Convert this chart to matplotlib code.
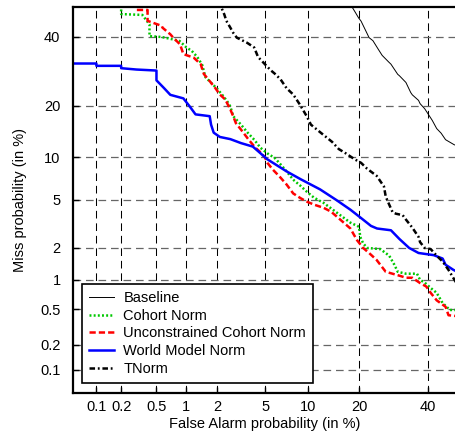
import math

import numpy as np
import matplotlib as mpl
mpl.use("Agg")
import matplotlib.pyplot as plt
from matplotlib.ticker import FixedLocator, FixedFormatter, NullLocator

# DET curve values, percentages (false alarm, miss)
baseline_fa = [17.5, 18.5, 19.2, 19.9, 20.5, 21.5, 22.5, 23.5, 25, 26, 27.9, 28.5, 30.5, 31,
               33, 34.5, 35, 37, 37.5, 39, 41.5, 43, 44.5, 46, 49, 50]
baseline_miss = [52, 49.7, 48, 46.3, 45.2, 42.4, 39.7, 38.7, 35.8, 34, 31.9, 31.3, 28.3, 27.9,
                 26, 23.3, 22.7, 21.3, 20.5, 19.3, 16.7, 15.0, 14.1, 12.9, 12.0, 11.9]

cohort_fa = [0.2, 0.2, 0.35, 0.42, 0.42, 0.57, 0.75, 0.87, 1.02, 1.15, 1.3, 1.45, 1.55, 2.0,
             2.25, 2.45, 2.6, 2.75, 3.2, 3.6, 4.1, 4.6, 5.2, 5.9, 6.5, 7.2, 8.0, 9.0, 9.9, 11.0,
             12.6, 14, 15.8, 18, 20, 20.3, 21, 22, 25.5, 28, 29.5, 30.5, 33, 36.5, 37.5, 39, 41,
             43, 45, 47.5, 50]
cohort_miss = [52, 47.6, 47.3, 44.1, 40.2, 39.9, 39.1, 38.6, 36.5, 35.4, 33.5, 31, 27.5, 24.2,
               22.4, 21, 19.8, 17.6, 15.8, 14.3, 12.9, 11.5, 10.6, 9.9, 9.0, 8.05, 7.05, 6.35,
               5.75, 5.2, 4.75, 4.3, 3.8, 3.3, 3.05, 2.5, 2.2, 2.0, 1.95, 1.7, 1.4, 1.2, 1.15,
               1.15, 1.0, 0.94, 0.83, 0.74, 0.58, 0.49, 0.49]

uncons_fa = [0.3, 0.3, 0.4, 0.4, 0.57, 0.58, 0.7, 0.75, 0.88, 0.95, 1.2, 1.4, 1.5, 1.9, 2.1,
             2.35, 2.6, 2.75, 2.9, 3.3, 3.7, 4.2, 4.7, 5.0, 5.2, 5.7, 6.5, 7.2, 8.0, 9.0, 9.9,
             11.0, 12.6, 14, 15.8, 18, 19.5, 21, 22.5, 24.5, 27, 31, 33, 35, 37.5, 39.5, 41,
             43, 46, 47, 50]
uncons_miss = [52, 49, 49, 45.3, 43.6, 43, 40.8, 39.7, 37.5, 34.4, 33.3, 31.3, 28.4, 24.6, 22.8,
               21.5, 19.1, 17.6, 16.1, 14.4, 12.9, 11.5, 10.6, 9.9, 9.2, 8.3, 7.3, 6.5, 5.6,
               5.15, 4.85, 4.6, 4.35, 4.05, 3.5, 2.95, 2.35, 2.0, 1.8, 1.55, 1.2, 1.1, 1.05,
               1.05, 0.93, 0.86, 0.74, 0.62, 0.53, 0.43, 0.42]

world_fa = [0.04, 0.1, 0.1, 0.2, 0.2, 0.3, 0.5, 0.5, 0.6, 0.7, 0.95, 1.1, 1.25, 1.7, 1.75, 1.85,
            2.1, 2.6, 3.2, 4.0, 5.2, 7.2, 9.0, 12, 15, 18, 20.5, 23, 24.6, 28.5, 31, 34, 37,
            42, 45, 46, 48.7, 50]
world_miss = [31.5, 31.5, 30.8, 30.8, 30.1, 29.7, 29.4, 26.6, 24.5, 22.7, 21.8, 19.8, 18.0,
              17.6, 15.8, 14.2, 13.4, 13.0, 12.3, 11.7, 9.7, 8.05, 7.1, 6.0, 5.0, 4.2, 3.6,
              3.1, 2.95, 2.85, 2.4, 2.0, 1.8, 1.72, 1.6, 1.4, 1.25, 1.2]

tnorm_fa = [2.05, 2.3, 2.4, 2.6, 2.75, 2.95, 3.6, 4.1, 4.4, 5.0, 5.5, 5.9, 6.5, 7.2, 8.0, 8.8,
            9.9, 10.5, 12, 14.2, 15.5, 17, 19, 20.5, 22, 24.5, 26.5, 27, 28, 29, 30, 32, 33,
            35, 37, 37.5, 39, 41, 43, 45, 47, 50]
tnorm_miss = [52, 47.5, 45.3, 43, 41.3, 39.7, 38.0, 36.5, 33.5, 31.2, 29.5, 28.5, 26.9, 24.4,
              22.8, 20.5, 17.5, 15.8, 14.3, 12.5, 11.3, 10.6, 9.7, 9.2, 8.4, 7.5, 6.3, 5.3,
              4.6, 4.0, 3.9, 3.8, 3.5, 3.0, 2.5, 2.25, 2.0, 1.95, 1.7, 1.5, 1.25, 0.9]

tick_vals = [0.1, 0.2, 0.5, 1, 2, 5, 10, 20, 40]
tick_labels = ["0.1", "0.2", "0.5", "1", "2", "5", "10", "20", "40"]


# normal deviate scale (Acklam's approximation for the inverse cdf)
_a = [-3.969683028665376e+01, 2.209460984245205e+02, -2.759285104469687e+02,
      1.383577518672690e+02, -3.066479806614716e+01, 2.506628277459239e+00]
_b = [-5.447609879822406e+01, 1.615858368580409e+02, -1.556989798598866e+02,
      6.680131188771972e+01, -1.328068155288572e+01]
_c = [-7.784894002430293e-03, -3.223964580411365e-01, -2.400758277161838e+00,
      -2.549671039971571e+00, 4.374664141464968e+00, 2.938163982698783e+00]
_d = [7.784695709041462e-03, 3.224671290700398e-01, 2.445134137142996e+00,
      3.754408661907416e+00]


def _ppf(p):
    p = np.clip(np.asarray(p, dtype=float), 1e-12, 1 - 1e-12)
    out = np.empty_like(p)
    lo = p < 0.02425
    hi = p > 1 - 0.02425
    mid = ~(lo | hi)
    q = np.sqrt(-2 * np.log(p[lo]))
    out[lo] = (((((_c[0]*q+_c[1])*q+_c[2])*q+_c[3])*q+_c[4])*q+_c[5]) / \
              ((((_d[0]*q+_d[1])*q+_d[2])*q+_d[3])*q+1)
    q = np.sqrt(-2 * np.log(1 - p[hi]))
    out[hi] = -(((((_c[0]*q+_c[1])*q+_c[2])*q+_c[3])*q+_c[4])*q+_c[5]) / \
               ((((_d[0]*q+_d[1])*q+_d[2])*q+_d[3])*q+1)
    q = p[mid] - 0.5
    r = q * q
    out[mid] = (((((_a[0]*r+_a[1])*r+_a[2])*r+_a[3])*r+_a[4])*r+_a[5])*q / \
               (((((_b[0]*r+_b[1])*r+_b[2])*r+_b[3])*r+_b[4])*r+1)
    return out


_erfc = np.vectorize(math.erfc)


def pct_to_dev(x):
    return _ppf(np.asarray(x, dtype=float) / 100.0)


def dev_to_pct(z):
    return 100.0 * 0.5 * _erfc(-np.asarray(z, dtype=float) / math.sqrt(2))


def main():
    mpl.rcParams.update({
        "font.family": ["Liberation Sans", "DejaVu Sans"],
        "font.size": 10.5,
        "lines.scale_dashes": False,
    })

    fig = plt.figure(figsize=(4.55, 4.32), dpi=100)
    W, H = 455, 432
    ax = fig.add_axes([73 / W, 39 / H, (457.3 - 73) / W, 386 / H])

    for axis in ("x", "y"):
        getattr(ax, f"set_{axis}scale")("function", functions=(pct_to_dev, dev_to_pct))
    ax.set_xlim(0.05, 50)
    ax.set_ylim(0.05, 50)

    ax.plot(baseline_fa, baseline_miss, color="black", lw=0.7, label="Baseline")
    ax.plot(cohort_fa, cohort_miss, color="#00c800", lw=1.8, linestyle=(0, (1.4, 1.6)),
            label="Cohort Norm")
    ax.plot(uncons_fa, uncons_miss, color="#ff0000", lw=1.8, linestyle=(0, (4.5, 2.2)),
            label="Unconstrained Cohort Norm")
    ax.plot(world_fa, world_miss, color="#0000ff", lw=1.8, label="World Model Norm")
    ax.plot(tnorm_fa, tnorm_miss, color="black", lw=1.8, linestyle=(0, (4, 2, 1.3, 2)),
            label="TNorm")

    for axis in (ax.xaxis, ax.yaxis):
        axis.set_major_locator(FixedLocator(tick_vals))
        axis.set_major_formatter(FixedFormatter(tick_labels))
        axis.set_minor_locator(NullLocator())

    # vertical grid black, horizontal one a little lighter
    ax.grid(True, axis="x", color="black", lw=0.75, linestyle=(0, (5.5, 3.5)))
    ax.grid(True, axis="y", color="0.4", lw=0.9, linestyle=(0, (5.5, 3.5)))
    ax.set_axisbelow(True)

    ax.tick_params(direction="in", length=4, width=1, top=False, right=False)
    ax.tick_params(axis="x", pad=5)
    ax.tick_params(axis="y", pad=9)
    for side in ("left", "bottom", "top", "right"):
        ax.spines[side].set_linewidth(1.6)

    ax.set_xlabel("False Alarm probability (in %)")
    ax.set_ylabel("Miss probability (in %)")
    ax.xaxis.set_label_coords(0.5, -0.062)
    ax.yaxis.set_label_coords(-0.12, 0.5)

    leg = ax.legend(loc="lower left", bbox_to_anchor=(0.023, 0.026), borderaxespad=0,
                    fancybox=False, framealpha=1, edgecolor="black", handlelength=1.7,
                    handletextpad=0.65, labelspacing=0.25, borderpad=0.5)
    leg.get_frame().set_linewidth(1.2)

    fig.savefig("out.png", dpi=100)
    plt.close(fig)


if __name__ == "__main__":
    main()
